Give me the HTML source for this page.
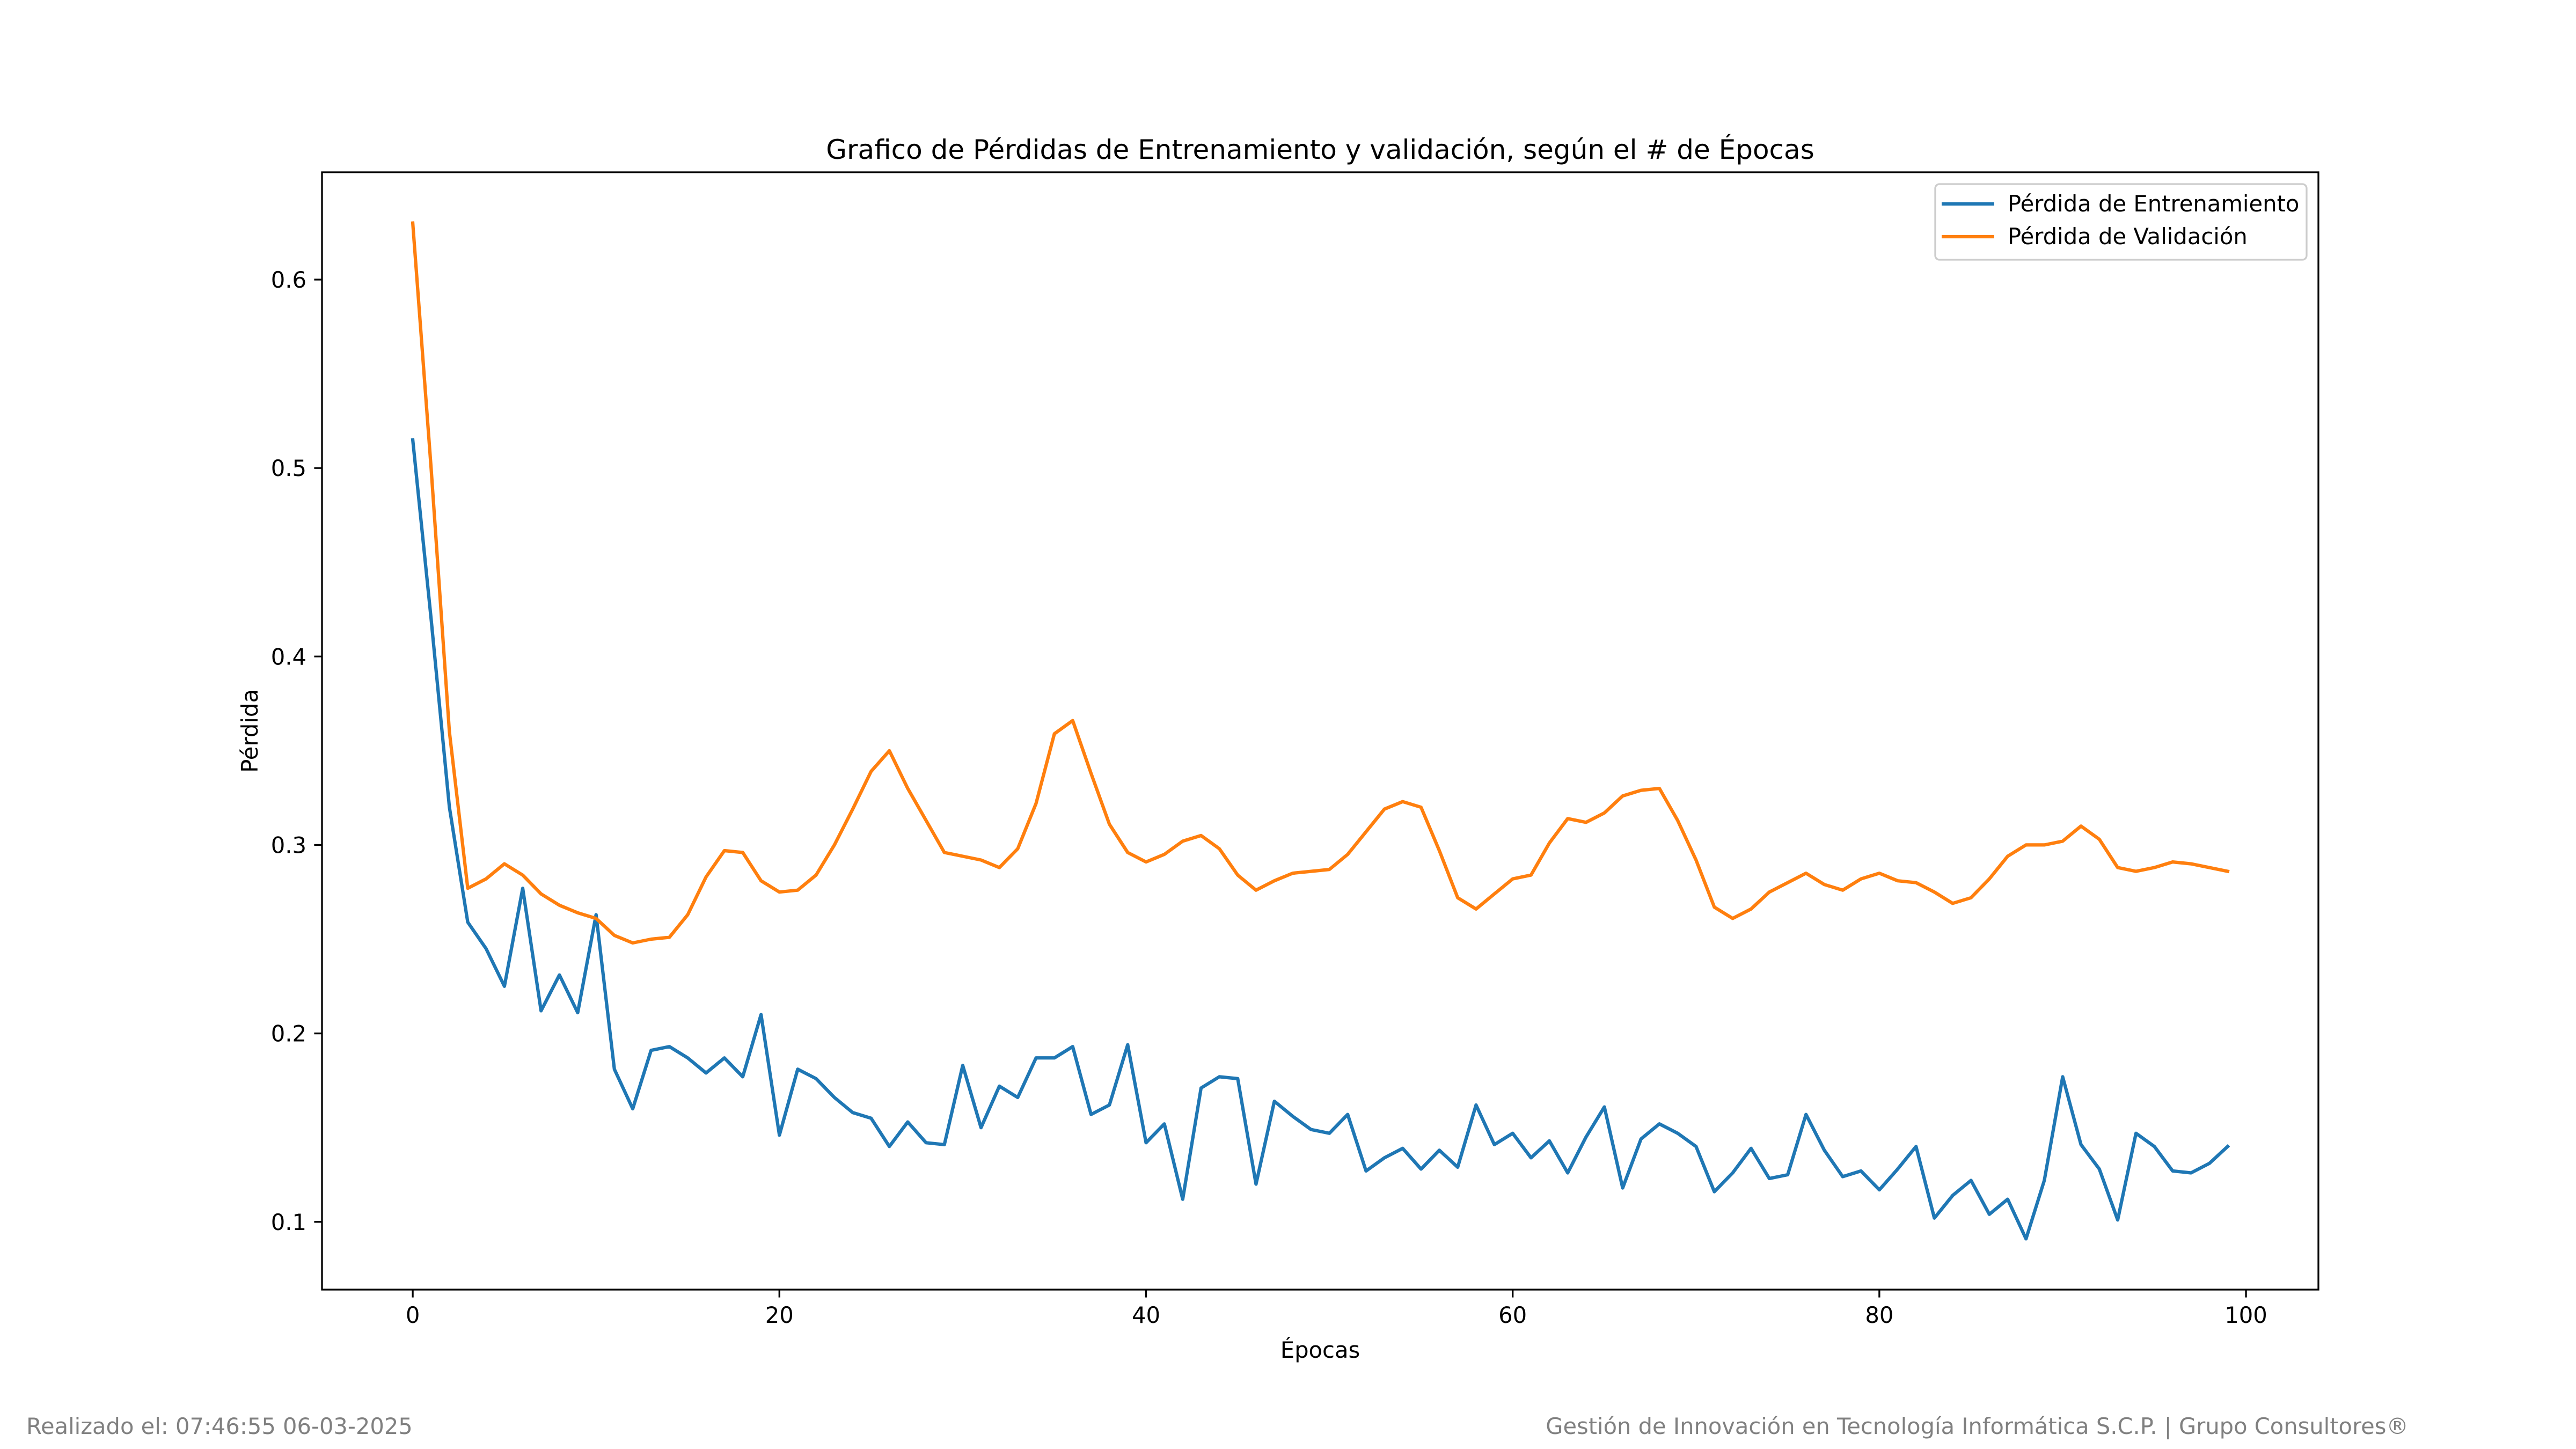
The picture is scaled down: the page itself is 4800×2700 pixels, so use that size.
<!DOCTYPE html>
<html><head><meta charset="utf-8">
<style>
html,body{margin:0;padding:0;background:#fff;}
svg{display:block;font-family:"DejaVu Sans","Liberation Sans",sans-serif;}
</style></head>
<body>
<svg id="chart" width="4800" height="2700" viewBox="0 0 4800 2700">
<rect x="0" y="0" width="4800" height="2700" fill="#fff"/>
<text x="2460" y="296" font-size="50" text-anchor="middle" fill="#000">Grafico de Pérdidas de Entrenamiento y validación, según el # de Épocas</text>
<g id="xticks"></g>
<g id="yticks"></g>
<g id="series"></g>
<rect x="600" y="321" width="3720" height="2082" fill="none" stroke="#000" stroke-width="3.3"/>
<text x="2460" y="2530" font-size="41.7" text-anchor="middle">Épocas</text>
<text x="480" y="1362" font-size="41.7" text-anchor="middle" transform="rotate(-90 480 1362)">Pérdida</text>
<g>
<rect x="3606" y="343" width="692" height="141" rx="8" fill="#fff" fill-opacity="0.8" stroke="#ccc" stroke-width="3.3"/>
<line x1="3618" y1="380" x2="3716" y2="380" stroke="#1f77b4" stroke-width="6.25"/>
<text x="3741" y="394" font-size="41.7">Pérdida de Entrenamiento</text>
<line x1="3618" y1="441" x2="3716" y2="441" stroke="#ff7f0e" stroke-width="6.25"/>
<text x="3741" y="455" font-size="41.7">Pérdida de Validación</text>
</g>
<text x="49" y="2672" font-size="41.6" fill="#808080">Realizado el: 07:46:55 06-03-2025</text>
<text x="4488" y="2672" font-size="41.6" fill="#808080" text-anchor="end">Gestión de Innovación en Tecnología Informática S.C.P. | Grupo Consultores®</text>
</svg>
<script>
const xTickValues = [0, 20, 40, 60, 80, 100];
const yTickValues = [0.1, 0.2, 0.3, 0.4, 0.5, 0.6];
const yTickLabels = ["0.1", "0.2", "0.3", "0.4", "0.5", "0.6"];
const trainLoss = [0.515,0.42,0.32,0.259,0.245,0.225,0.277,0.212,0.231,0.211,0.263,0.181,0.160,0.191,0.193,0.187,0.179,0.187,0.177,0.210,0.146,0.181,0.176,0.166,0.158,0.155,0.140,0.153,0.142,0.141,0.183,0.150,0.172,0.166,0.187,0.187,0.193,0.157,0.162,0.194,0.142,0.152,0.112,0.171,0.177,0.176,0.120,0.164,0.156,0.149,0.147,0.157,0.127,0.134,0.139,0.128,0.138,0.129,0.162,0.141,0.147,0.134,0.143,0.126,0.145,0.161,0.118,0.144,0.152,0.147,0.140,0.116,0.126,0.139,0.123,0.125,0.157,0.138,0.124,0.127,0.117,0.128,0.140,0.102,0.114,0.122,0.104,0.112,0.091,0.122,0.177,0.141,0.128,0.101,0.147,0.140,0.127,0.126,0.131,0.140];
const valLoss = [0.630,0.50,0.36,0.277,0.282,0.290,0.284,0.274,0.268,0.264,0.261,0.252,0.248,0.250,0.251,0.263,0.283,0.297,0.296,0.281,0.275,0.276,0.284,0.300,0.319,0.339,0.350,0.330,0.313,0.296,0.294,0.292,0.288,0.298,0.322,0.359,0.366,0.338,0.311,0.296,0.291,0.295,0.302,0.305,0.298,0.284,0.276,0.281,0.285,0.286,0.287,0.295,0.307,0.319,0.323,0.320,0.297,0.272,0.266,0.274,0.282,0.284,0.301,0.314,0.312,0.317,0.326,0.329,0.330,0.313,0.292,0.267,0.261,0.266,0.275,0.280,0.285,0.279,0.276,0.282,0.285,0.281,0.280,0.275,0.269,0.272,0.282,0.294,0.300,0.300,0.302,0.310,0.303,0.288,0.286,0.288,0.291,0.290,0.288,0.286];

const NS = "http://www.w3.org/2000/svg";
const L = 600, R = 4320, T = 321, B = 2403;
const all = trainLoss.concat(valLoss);
const n = Math.max(trainLoss.length, valLoss.length);
const xMin0 = 0, xMax0 = n - 1, xPad = (xMax0 - xMin0) * 0.05;
const yMin0 = Math.min(...all), yMax0 = Math.max(...all), yPad = (yMax0 - yMin0) * 0.05;
function sx(v){ return L + (v - (xMin0 - xPad)) / ((xMax0 + xPad) - (xMin0 - xPad)) * (R - L); }
function sy(v){ return B - (v - (yMin0 - yPad)) / ((yMax0 + yPad) - (yMin0 - yPad)) * (B - T); }

const gx = document.getElementById('xticks');
xTickValues.forEach(v => {
  const x = sx(v);
  const t = document.createElementNS(NS, 'line');
  t.setAttribute('x1', x); t.setAttribute('x2', x); t.setAttribute('y1', B); t.setAttribute('y2', B + 14.6);
  t.setAttribute('stroke', '#000'); t.setAttribute('stroke-width', 3.3);
  
  
  gx.appendChild(t);
  const lb = document.createElementNS(NS, 'text');
  lb.setAttribute('x', x); lb.setAttribute('y', B + 62); lb.setAttribute('font-size', 41.7); lb.setAttribute('text-anchor', 'middle');
  lb.textContent = String(v);
  
  
  gx.appendChild(lb);
});
const gy = document.getElementById('yticks');
yTickValues.forEach((v, i) => {
  const y = sy(v);
  const t = document.createElementNS(NS, 'line');
  t.setAttribute('x1', L - 14.6); t.setAttribute('x2', L); t.setAttribute('y1', y); t.setAttribute('y2', y);
  t.setAttribute('stroke', '#000'); t.setAttribute('stroke-width', 3.3);
  
  
  gy.appendChild(t);
  const lb = document.createElementNS(NS, 'text');
  lb.setAttribute('x', L - 29); lb.setAttribute('y', y + 15); lb.setAttribute('font-size', 41.7); lb.setAttribute('text-anchor', 'end');
  lb.textContent = yTickLabels[i];
  
  
  gy.appendChild(lb);
});
const gs = document.getElementById('series');
function drawLine(arr, color, name){
  const p = document.createElementNS(NS, 'polyline');
  p.setAttribute('points', arr.map((v, i) => sx(i).toFixed(1) + ',' + sy(v).toFixed(1)).join(' '));
  p.setAttribute('fill', 'none'); p.setAttribute('stroke', color); p.setAttribute('stroke-width', 6.25);
  p.setAttribute('stroke-linejoin', 'round'); p.setAttribute('stroke-linecap', 'square');
  
  
  gs.appendChild(p);
}
drawLine(trainLoss, '#1f77b4', 'train-loss-line');
drawLine(valLoss, '#ff7f0e', 'validation-loss-line');
</script>
</body></html>
